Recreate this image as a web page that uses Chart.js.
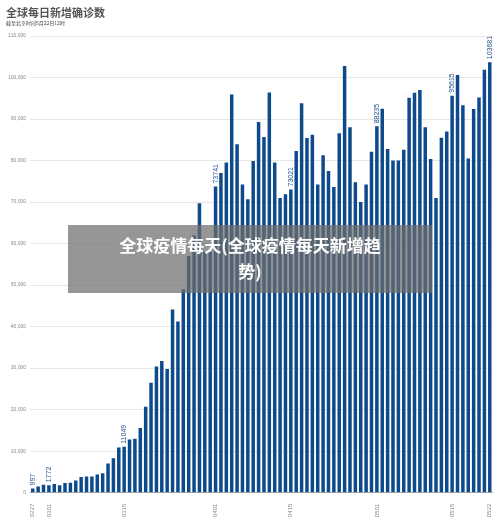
<!DOCTYPE html>
<html><head><meta charset="utf-8">
<script src="https://cdn.jsdelivr.net/npm/chart.js@4/dist/chart.umd.min.js"></script>
<style>
body{margin:0;background:#fff;font-family:"Noto Sans CJK SC","Noto Sans",sans-serif;}
#wrap{position:relative;width:500px;height:520px;}
#t1{position:absolute;left:6px;top:4px;font-size:11px;font-weight:bold;color:#555;}
#t2{position:absolute;left:6px;top:19px;font-size:5px;color:#444;}
#ov{position:absolute;left:68px;top:225px;width:364px;height:68px;background:rgba(110,110,110,0.72);color:#fff;font-weight:bold;font-size:17px;text-align:center;line-height:26px;padding-top:7px;box-sizing:border-box;}
canvas{position:absolute;left:0;top:0;}
</style></head><body>
<div id="wrap">
<canvas id="c" width="500" height="520"></canvas>
<div id="t1">全球每日新增确诊数</div>
<div id="t2">截至北京时间5月22日12时</div>
<div id="ov">全球疫情每天(全球疫情每天新增趋<br>势)</div>
</div>
<script>
const dates=["0227","0228","0229"];
for(let d=1;d<=31;d++)dates.push("03"+String(d).padStart(2,"0"));
for(let d=1;d<=30;d++)dates.push("04"+String(d).padStart(2,"0"));
for(let d=1;d<=22;d++)dates.push("05"+String(d).padStart(2,"0"));
const shownTicks=["0227","0301","0315","0401","0415","0501","0515","0522"];
const cases=[997,1500,1900,1772,2100,1800,2300,2400,2900,3800,3900,3900,4400,4700,7000,8300,10900,11049,12800,13000,15600,20700,26500,30400,31700,29800,44100,41200,49000,57000,62000,69700,58100,58000,
73741,77000,79500,95900,83900,74200,70700,79900,89300,85700,96400,79500,71000,71900,73021,82300,93800,85400,86200,74200,81300,77500,73600,86600,102800,88000,74800,70000,74200,82100,
88235,92500,82800,80000,80000,82600,95100,96300,97000,88000,80400,71000,85500,87000,95615,100600,93300,80500,92400,95200,101900,103681];
const labeled=[0,3,17,34,48,64,78,85];
const labelPlugin={id:'lbl',afterDatasetsDraw(ch){const ctx=ch.ctx,x=ch.scales.x,y=ch.scales.y;ctx.save();ctx.fillStyle='#1d4f8a';ctx.font='7px "Liberation Sans",sans-serif';ctx.textBaseline='middle';
labeled.forEach(i=>{ctx.save();ctx.translate(x.getPixelForValue(i),y.getPixelForValue(cases[i])-3);ctx.rotate(-Math.PI/2);ctx.textAlign='left';ctx.fillText(String(cases[i]),0,0);ctx.restore();});ctx.restore();}};
new Chart(document.getElementById('c'),{type:'bar',
data:{labels:dates,datasets:[{data:cases,backgroundColor:'#0d4a8c',barPercentage:0.65,categoryPercentage:1}]},
options:{responsive:false,animation:false,events:[],layout:{padding:{top:36,left:4,right:4,bottom:0}},
plugins:{legend:{display:false},tooltip:{enabled:false}},
scales:{y:{min:0,max:110000,ticks:{stepSize:10000,color:'#888',font:{size:5},padding:4},grid:{color:'#e6e6e6',drawTicks:false},border:{display:false}},
x:{grid:{display:false},border:{color:'#aaa'},ticks:{autoSkip:false,maxRotation:90,minRotation:90,color:'#888',font:{size:6},callback:(v,i)=>shownTicks.includes(dates[i])?dates[i]:''}}}},
plugins:[labelPlugin]});
</script></body></html>
